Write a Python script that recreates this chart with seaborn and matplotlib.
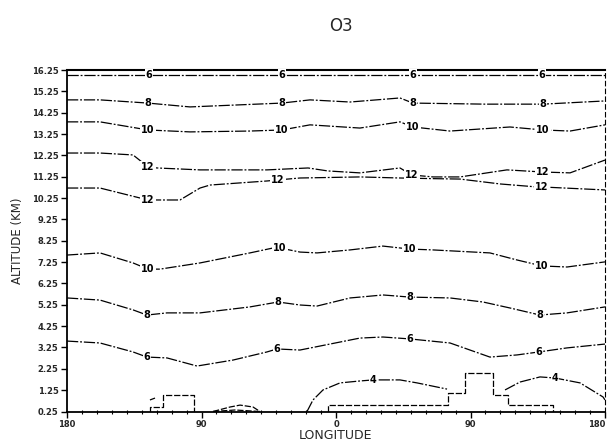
import numpy as np
import pandas as pd
import matplotlib
matplotlib.use("Agg")
import matplotlib.pyplot as plt
import seaborn as sns

sns.set_style("white")
plt.rcParams['font.family'] = ['DejaVu Sans']

# ---------------- data (longitude in deg, altitude in km) ----------------
title = "O3"
x_ticks = [-180, -90, 0, 90, 180]
x_tick_labels = ["180", "90", "0", "90", "180"]
y_ticks = [0.25 + i for i in range(17)]
y_tick_labels = [f"{v:.2f}" for v in y_ticks]

# contour lines: (level, lon list, alt list, label indices)
c6_top_lon = [-180, 180]
c6_top_alt = [16.02, 16.02]
c6_top_lab = []  # labels placed separately along top line
c6_top_label_lon = [-125.0, -36.2, 51.5, 137.8]

c8_up_lon = [-180, -157.9, -125.8, -97.7, -36.2, -17.4, 9.4, 42.8, 51.5, 100, 138.5, 180]
c8_up_alt = [14.85, 14.85, 14.70, 14.52, 14.70, 14.85, 14.75, 14.94, 14.70, 14.65, 14.65, 14.80]
c8_up_lab = [2, 4, 8, 10]

c10_up_lon = [-180, -157.9, -125.8, -97.7, -57.6, -36.2, -17.4, 16.0, 42.8, 51.5, 76.3, 116.4, 138.5, 156.6, 180]
c10_up_alt = [13.82, 13.82, 13.44, 13.35, 13.39, 13.44, 13.68, 13.53, 13.82, 13.58, 13.39, 13.58, 13.44, 13.39, 13.68]
c10_up_lab = [2, 5, 9, 12]

c12_up_lon = [-180, -157.9, -135.8, -129, -125.8, -119.8, -91, -46.2, -18.7, -5.4, 16.0, 42.8, 50.8, 65, 83, 114.4, 138.5, 156.6, 180]
c12_up_alt = [12.36, 12.36, 12.27, 11.89, 11.71, 11.66, 11.57, 11.57, 11.66, 11.52, 11.43, 11.66, 11.33, 11.24, 11.24, 11.57, 11.47, 11.43, 12.03]
c12_up_lab = [4, 12, 16]

c12_lo_lon = [-180, -157.9, -125.8, -104.4, -91, -84.3, -46.2, -38.8, -24.1, 16.0, 42.8, 65, 83, 110, 134.5, 137.8, 180]
c12_lo_alt = [10.72, 10.72, 10.16, 10.16, 10.72, 10.86, 11.05, 11.10, 11.19, 11.24, 11.19, 11.16, 11.14, 10.91, 10.77, 10.77, 10.63]
c12_lo_lab = [2, 7, 15]

c10_lo_lon = [-180, -157.9, -135.8, -125.8, -117.8, -91, -57.6, -42.2, -37.5, -24.1, -12.7, 9.4, 31.4, 49.5, 64.9, 103, 121.1, 137.8, 154.6, 180]
c10_lo_alt = [7.58, 7.68, 7.21, 6.92, 6.92, 7.21, 7.68, 7.91, 7.91, 7.72, 7.68, 7.82, 8.00, 7.86, 7.82, 7.68, 7.35, 7.07, 7.02, 7.26]
c10_lo_lab = [3, 8, 13, 17]

c8_lo_lon = [-180, -157.9, -135.8, -126.5, -113.1, -91, -57.6, -38.8, -24.1, -12.7, 9.4, 16.0, 31.4, 49.5, 76.3, 98.4, 116.4, 136.5, 154.6, 180]
c8_lo_alt = [5.57, 5.47, 5.01, 4.77, 4.87, 4.87, 5.15, 5.38, 5.24, 5.19, 5.57, 5.61, 5.71, 5.61, 5.57, 5.38, 5.10, 4.77, 4.87, 5.15]
c8_lo_lab = [3, 7, 13, 17]

c6_lo_lon = [-180, -157.9, -135.8, -126.5, -113.1, -93, -68.9, -46.2, -39.5, -24.1, 16, 31.4, 49.5, 76.3, 103, 121.1, 135.8, 154.6, 180]
c6_lo_alt = [3.55, 3.46, 3.04, 2.80, 2.76, 2.38, 2.66, 3.04, 3.18, 3.13, 3.69, 3.74, 3.65, 3.46, 2.80, 2.90, 3.04, 3.23, 3.41]
c6_lo_lab = [3, 8, 12, 16]

c4_a_lon = [-19.4, -15.4, -8.7, 2.7, 16, 24.8, 42.8, 54.2, 74.3]
c4_a_alt = [0.25, 0.79, 1.26, 1.59, 1.68, 1.73, 1.73, 1.59, 1.30]
c4_a_lab = [5]

c4_b_lon = [113.1, 123.1, 136.5, 146.5, 163.3, 178.7, 180]
c4_b_alt = [1.26, 1.63, 1.87, 1.82, 1.59, 0.93, 0.79]
c4_b_lab = [3]

# surface / step outlines near the ground
stepA_lon = [-124.5, -124.5, -115.8, -115.8, -95.0, -95.0]
stepA_alt = [0.25, 0.46, 0.46, 1.02, 1.02, 0.25]
stepA2_lon = [-124.5, -121.1]
stepA2_alt = [0.79, 0.88]
bumpB_lon = [-82.3, -70.9, -64.2, -55.5, -50.9]
bumpB_alt = [0.25, 0.46, 0.55, 0.46, 0.25]
bumpB2_lon = [-82.3, -67.6, -50.9]
bumpB2_alt = [0.25, 0.32, 0.25]
stepC_lon = [-5.4, -5.4, 74.9, 74.9, 86.3, 86.3, 105.1, 105.1, 115.1, 115.1, 145.2, 145.2]
stepC_alt = [0.25, 0.55, 0.55, 1.12, 1.12, 2.05, 2.05, 1.02, 1.02, 0.55, 0.55, 0.25]

contours = [
    ("6", c6_top_lon, c6_top_alt, c6_top_lab),
    ("8", c8_up_lon, c8_up_alt, c8_up_lab),
    ("10", c10_up_lon, c10_up_alt, c10_up_lab),
    ("12", c12_up_lon, c12_up_alt, c12_up_lab),
    ("12", c12_lo_lon, c12_lo_alt, c12_lo_lab),
    ("10", c10_lo_lon, c10_lo_alt, c10_lo_lab),
    ("8", c8_lo_lon, c8_lo_alt, c8_lo_lab),
    ("6", c6_lo_lon, c6_lo_alt, c6_lo_lab),
    ("4", c4_a_lon, c4_a_alt, c4_a_lab),
    ("4", c4_b_lon, c4_b_alt, c4_b_lab),
]
steps = [
    (stepA_lon, stepA_alt), (stepA2_lon, stepA2_alt),
    (bumpB_lon, bumpB_alt), (bumpB2_lon, bumpB2_alt),
    (stepC_lon, stepC_alt),
]

# ---------------- figure ----------------
fig = plt.figure(figsize=(6.08, 4.44), dpi=100)
ax = fig.add_axes([67 / 608, 1 - 411.5 / 444, 538 / 608, 341.5 / 444])

lab_kw = dict(fontsize=7, fontweight='bold', ha='center', va='center', color='black',
              bbox=dict(facecolor='white', edgecolor='none', pad=0.6), zorder=5)

for lev, lon, alt, lab in contours:
    df = pd.DataFrame({"lon": lon, "alt": alt})
    sns.lineplot(data=df, x="lon", y="alt", ax=ax, sort=False, estimator=None,
                 color='black', linewidth=0.9, linestyle=(0, (9, 1.5, 1.5, 1.5)))
    for i in lab:
        ax.text(lon[i], alt[i], lev, **lab_kw)

for xl in c6_top_label_lon:
    ax.text(xl, c6_top_alt[0], "6", **lab_kw)

for lon, alt in steps:
    df = pd.DataFrame({"lon": lon, "alt": alt})
    sns.lineplot(data=df, x="lon", y="alt", ax=ax, sort=False, estimator=None,
                 color='black', linewidth=0.9, linestyle=(0, (5, 1.5)))

ax.set_xlim(-180, 180)
ax.set_ylim(0.25, 16.25)
ax.set_xticks(x_ticks)
ax.set_xticklabels(x_tick_labels, fontsize=6, fontweight='bold')
ax.set_xticks(np.arange(-180, 181, 10), minor=True)
ax.set_yticks(y_ticks)
ax.set_yticklabels(y_tick_labels, fontsize=6, fontweight='bold')
ax.tick_params(axis='both', which='major', direction='out', length=4, width=1,
               color='black', pad=2, bottom=True, left=True)
ax.tick_params(axis='x', which='minor', direction='inout', length=3, width=0.8,
               color='black', bottom=True)
# keep the rightmost tick label inside the figure
ax.get_xticklabels()[-1].set_horizontalalignment('right')

for s in ['left', 'bottom']:
    ax.spines[s].set_visible(True)
    ax.spines[s].set_color('black')
    ax.spines[s].set_linewidth(1.3)
ax.spines['top'].set_visible(True)
ax.spines['top'].set_color('black')
ax.spines['top'].set_linewidth(1.5)
ax.spines['right'].set_visible(True)
ax.spines['right'].set_color('black')
ax.spines['right'].set_linewidth(0.8)
ax.spines['right'].set_linestyle((0, (4, 3)))

ax.set_xlabel("LONGITUDE", fontsize=9, labelpad=0)
ax.set_ylabel("ALTITUDE (KM)", fontsize=8.5, labelpad=6)
fig.text(341 / 608, 1 - 26 / 444, title, fontsize=12, ha='center', va='center')

fig.savefig("out.png", dpi=100)
